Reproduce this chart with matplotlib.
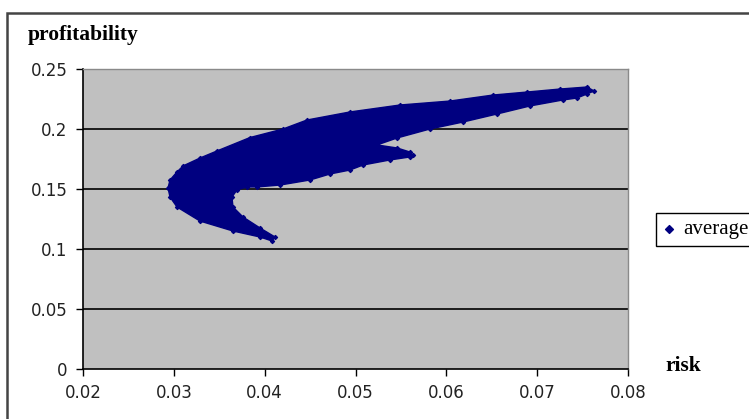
import matplotlib

matplotlib.use("Agg")

import matplotlib.pyplot as plt
from matplotlib.patches import Rectangle

# outline of the cloud of portfolios (risk, profitability)
risk = [
    0.02936, 0.02958, 0.03035, 0.03101, 0.03288, 0.03475, 0.03839, 0.04202,
    0.04466, 0.04939, 0.05490, 0.06040, 0.06514, 0.06888, 0.07251, 0.07549,
    0.07626, 0.07549, 0.07438, 0.07284, 0.06921, 0.06558, 0.06183, 0.05820,
    0.05457, 0.05237, 0.05457, 0.05600, 0.05633, 0.05600, 0.05380, 0.05083,
    0.04939, 0.04719, 0.04499, 0.04169, 0.03916, 0.03805, 0.03695, 0.03640,
    0.03651, 0.03761, 0.03949, 0.04114, 0.04081, 0.03949, 0.03651, 0.03288,
    0.03035, 0.02958,
]
profitability = [
    0.1508, 0.1575, 0.1642, 0.1692, 0.1758, 0.1817, 0.1929, 0.2000,
    0.2075, 0.2142, 0.2200, 0.2233, 0.2283, 0.2308, 0.2333, 0.2350,
    0.2317, 0.2292, 0.2258, 0.2242, 0.2192, 0.2125, 0.2058, 0.2000,
    0.1925, 0.1867, 0.1842, 0.1808, 0.1783, 0.1767, 0.1742, 0.1700,
    0.1658, 0.1625, 0.1575, 0.1533, 0.1517, 0.1517, 0.1492, 0.1433,
    0.1350, 0.1267, 0.1175, 0.1100, 0.1067, 0.1100, 0.1150, 0.1233,
    0.1350, 0.1433,
]
x_ticks = [0.02, 0.03, 0.04, 0.05, 0.06, 0.07, 0.08]
y_ticks = [0, 0.05, 0.1, 0.15, 0.2, 0.25]
x_labels = ["0.02", "0.03", "0.04", "0.05", "0.06", "0.07", "0.08"]
y_labels = ["0", "0.05", "0.1", "0.15", "0.2", "0.25"]

W, H = 749, 419
navy = "#000080"
serif = ["Liberation Serif", "DejaVu Serif"]

fig = plt.figure(figsize=(W / 100, H / 100), dpi=100, facecolor="white")
ax = fig.add_axes([83 / W, 1 - 369 / H, 545 / W, 300 / H])
ax.set_facecolor("#c0c0c0")

for y in y_ticks[1:-1]:
    ax.axhline(y, color="black", linewidth=1.2, zorder=1)

ax.fill(risk, profitability, facecolor=navy, edgecolor=navy, linewidth=1.0, zorder=2)
ax.scatter(risk, profitability, marker="D", s=4, color=navy, zorder=3, label="average")

ax.set_xlim(0.02, 0.08)
ax.set_ylim(0, 0.25)
ax.set_xticks(x_ticks, x_labels)
ax.set_yticks(y_ticks, y_labels)
ax.tick_params(direction="out", length=5, width=1, labelsize=12, labelcolor="#222222", pad=6)

for side in ("left", "bottom"):
    ax.spines[side].set_color("black")
    ax.spines[side].set_linewidth(1.2)
for side in ("top", "right"):
    ax.spines[side].set_color("#8a8a8a")
    ax.spines[side].set_linewidth(1.0)

fig.text(28 / W, 1 - 40 / H, "profitability", family=serif, fontsize=15.5,
         fontweight="bold", va="baseline", ha="left")
fig.text(665 / W, 1 - 371 / H, "risk", family=serif, fontsize=15.5,
         fontweight="bold", va="baseline", ha="left")

leg = fig.legend(loc="center left", bbox_to_anchor=(656 / W, 1 - 229.5 / H),
                 frameon=True, fancybox=False, edgecolor="black", framealpha=1,
                 prop={"family": serif, "size": 15}, handlelength=0.6,
                 handletextpad=0.4, borderpad=0.3, borderaxespad=0,
                 markerscale=2.0)
leg.get_frame().set_linewidth(1.0)

# outer chart-area border, running off the right and bottom edges
fig.patches.append(Rectangle((7 / W, -0.1), 1.2, 1 - 13 / H + 0.1,
                             transform=fig.transFigure, fill=False,
                             edgecolor="#444444", linewidth=1.8))

fig.savefig("out.png", dpi=100)
